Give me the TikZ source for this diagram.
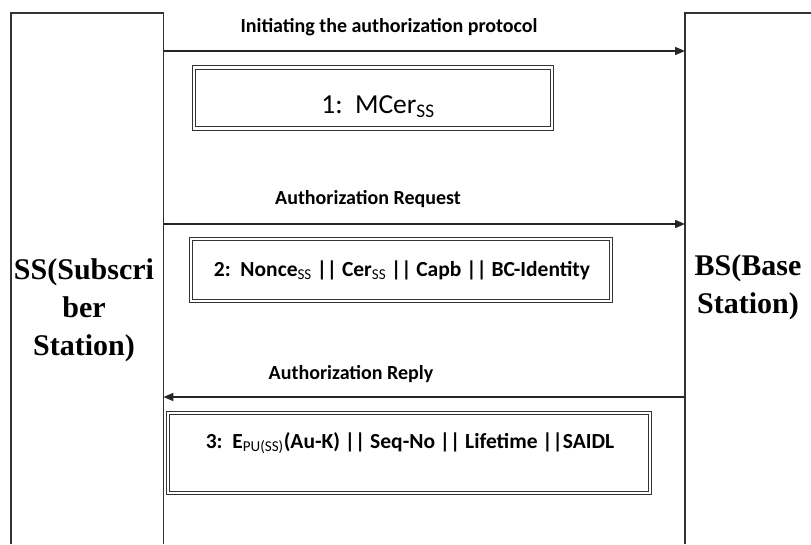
\documentclass[tikz,border=0pt]{standalone}
\usepackage{fontspec}
\setmainfont{Carlito}
\newfontfamily\stationfont{Liberation Serif}
\usetikzlibrary{arrows.meta}
\begin{document}
\begin{tikzpicture}[x=1pt,y=-1pt,
  lane/.style={line width=1.5pt, draw=black!80},
  msg/.style={line width=1.5pt, draw=black!85, -{Triangle[length=10pt,width=8pt]}},
  lbl/.style={font=\bfseries\fontsize{20}{22}\selectfont, inner sep=0pt},
  dbox/.style={draw=black!80, double, double distance=2.6pt, line width=1.1pt, inner sep=0pt},
  content/.style={font=\bfseries\fontsize{21.5}{24}\selectfont, inner sep=0pt},
  station/.style={font=\stationfont\bfseries\fontsize{30}{38}\selectfont, align=center, inner sep=0pt}
]
\useasboundingbox (0,0) rectangle (811,544);

% station columns (open at the bottom)
\node[minimum width=152pt, minimum height=531pt, inner sep=0pt, anchor=north west] (ss) at (11,13) {};
\node[minimum width=140pt, minimum height=531pt, inner sep=0pt, anchor=north west] (bs) at (685,13) {};
\draw[lane] (ss.south west) -- (ss.north west) -- (ss.north east) -- (ss.south east);
\draw[lane] (bs.south west) -- (bs.north west) -- (bs.north east);

\node[station] (sst) at (84,310) {SS(Subscri\\ber\\Station)};
\node[station] (bst) at (748,287) {BS(Base\\Station)};

% message 1
\coordinate (m1s) at (ss.east |- 0,51);
\coordinate (m1e) at (bs.west |- 0,51);
\draw[msg] (m1s) -- (m1e);
\node[lbl] (l1) at (389,27) {Initiating the authorization protocol};
\node[dbox, minimum width=358pt, minimum height=61pt] (b1) at (373,98) {};
\node[content, font=\fontsize{27.5}{30}\selectfont] (t1) at (378,107) {1:\ \ MCer\textsubscript{SS}};

% message 2
\coordinate (m2s) at (ss.east |- 0,224);
\coordinate (m2e) at (bs.west |- 0,224);
\draw[msg] (m2s) -- (m2e);
\node[lbl] (l2) at (368,199) {Authorization Request};
\node[dbox, minimum width=420pt, minimum height=62pt] (b2) at (401,270) {};
\node[content] (t2) at (402,270)
  {2:\ \ Nonce\textsubscript{\mdseries SS} || Cer\textsubscript{\mdseries SS} || Capb || BC-Identity};

% message 3
\coordinate (m3s) at (bs.west |- 0,397);
\coordinate (m3e) at (ss.east |- 0,397);
\draw[msg] (m3s) -- (m3e);
\node[lbl] (l3) at (351,374) {Authorization Reply};
\node[dbox, minimum width=482pt, minimum height=80pt] (b3) at (409,453) {};
\node[content] (t3) at (410,443)
  {3:\ \ E\textsubscript{\mdseries PU(SS)}(Au-K) || Seq-No || Lifetime ||SAIDL};
\end{tikzpicture}
\end{document}
